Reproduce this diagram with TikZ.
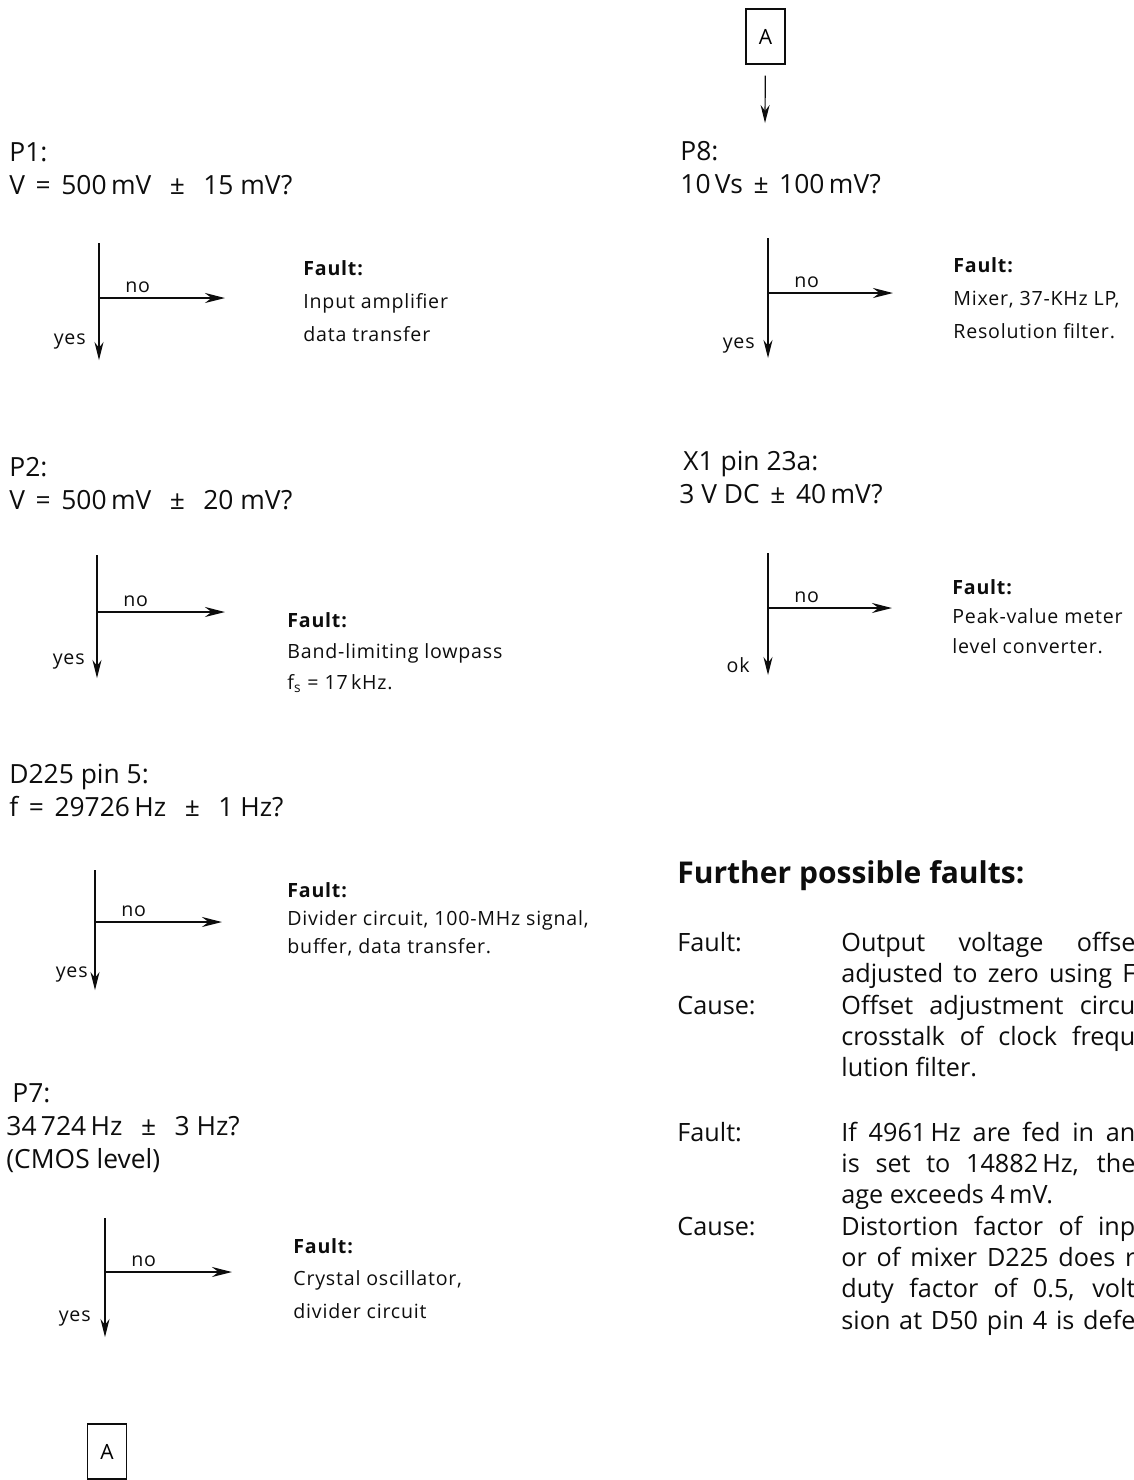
\documentclass[tikz,border=0pt]{standalone}
\usepackage{fontspec}
\setmainfont{Open Sans}
\newfontfamily\smallface[LetterSpace=4]{Open Sans}
\usepackage{tikz}
\usetikzlibrary{arrows.meta,calc,positioning}
\usepackage{xcolor}
\definecolor{printblack}{gray}{0.05}

\newlength{\colw}
\setlength{\colw}{147pt}
\newcommand{\fullline}[1]{\makebox[\colw][s]{#1}}
\newcommand{\wsp}{\hspace{0.4em}}
\newcommand{\psp}{\hspace{0.7em}}

\tikzset{
  question/.style={anchor=base west,align=left,inner sep=0pt,printblack,font=\fontsize{13.2}{16.5}\selectfont},
  faultnote/.style={anchor=base west,align=left,inner sep=0pt,printblack,font=\smallface\fontsize{9.8}{#1}\selectfont},
  faultnote/.default=15.5pt,
  tag/.style={inner sep=0pt,printblack,font=\smallface\fontsize{9.8}{12}\selectfont},
  trunk/.style={printblack,line width=0.6pt,-{Stealth[length=9pt,width=4.5pt]}},
  nobranch/.style={printblack,line width=1pt,-{Stealth[length=10pt,width=5pt]}},
  connector/.style={draw=printblack,line width=0.6pt,minimum width=19.5pt,minimum height=27.5pt,inner sep=0pt,font=\smallface\fontsize{10.5}{12}\selectfont},
  heading/.style={anchor=base west,inner sep=0pt,printblack,font=\bfseries\fontsize{15}{18}\selectfont},
  further/.style={anchor=base west,align=left,inner sep=0pt,printblack,font=\fontsize{12.6}{15.7}\selectfont}
}

\begin{document}
\begin{tikzpicture}[x=0.5pt,y=-0.5pt,>=Stealth]
  \useasboundingbox (0,0) rectangle (1134,1480);
  \node[question] (p1) at (9,194.5) {P1:\\V\wsp=\wsp500\,mV\psp±\psp15~mV?};
  \node[question] (p2) at (9,509) {P2:\\V\wsp=\wsp500\,mV\psp±\psp20~mV?};
  \node[question] (d225) at (9,816) {D225 pin 5:\\f\wsp=\wsp29726\,Hz\psp±\psp1~Hz?};
  \node[question] (p7) at (6,1168) {\hspace*{3pt}P7:\\34\,724\,Hz\psp±\psp3~Hz?\\(CMOS level)};
  \node[question] (p8) at (680,193.5) {P8:\\10\,Vs\wsp±\wsp100\,mV?};
  \node[question] (x1) at (679,503.5) {\hspace*{2pt}X1 pin 23a:\\3 V DC\wsp±\wsp40\,mV?};

  \foreach \n/\x/\t/\m/\b/\e/\l/\lx/\ly in {1/99/243/298/360/225/yes/6.5/9,2/97/555/612/678/225/yes/6/8.5,
      3/95/870/922/990/222/yes/3.5/8,4/105/1218/1272/1337/232/yes/7/9.5,
      5/768/238/293/358/893/yes/6.5/6,6/768/553/608/675/892/ok/9/5}{
    \coordinate (top\n) at (\x,\t);
    \coordinate (split\n) at (\x,\m);
    \coordinate (pass\n) at (\x,\b);
    \coordinate (fail\n) at (\e,\m);
    \draw[trunk] (top\n) -- (pass\n);
    \draw[nobranch] (split\n) -- (fail\n);
    \node[tag,anchor=south west] (no\n) at ([xshift=13pt,yshift=2.5pt]split\n) {no};
    \node[tag,anchor=east] (ans\n) at ([xshift=-\lx pt,yshift=\ly pt]pass\n) {\l};
  }

  \node[faultnote=16.5pt] (f1) at (303,341) {\textbf{Fault:}\\Input amplifier\\data transfer};
  \node[faultnote=15.5pt] (f2) at (287,689) {\textbf{Fault:}\\Band-limiting lowpass\\f\textsubscript{s}~=~17\,kHz.};
  \node[faultnote=14pt] (f3) at (287,953) {\textbf{Fault:}\\Divider circuit, 100-MHz signal,\\buffer, data transfer.};
  \node[faultnote=16.25pt] (f4) at (293,1318) {\textbf{Fault:}\\Crystal oscillator,\\divider circuit};
  \node[faultnote=16.5pt] (f5) at (953,338) {\textbf{Fault:}\\Mixer, 37-KHz LP,\\Resolution filter.};
  \node[faultnote=14.75pt] (f6) at (952,653) {\textbf{Fault:}\\Peak-value meter\\level converter.};

  \node[connector] (atop) at (765.5,36.5) {A};
  \node[connector] (abot) at (107,1451.5) {A};
  \coordinate (p8in) at (765,123);
  \draw[trunk,shorten <=5.5pt] (atop) -- (p8in);

  \node[heading] (further) at (677,883) {Further possible faults:};
  \node[further] (fault1) at (677,951) {Fault:};
  \node[further] (cause1) at (677,1014) {Cause:};
  \node[further] (fault2) at (677,1141) {Fault:};
  \node[further] (cause2) at (677,1235) {Cause:};
  \node[further] (fault1txt) at (841,982.4) {\fullline{Output voltage offse}\\\fullline{adjusted to zero using F}};
  \node[further] (cause1txt) at (841,1076.8) {\fullline{Offset adjustment circu}\\\fullline{crosstalk of clock frequ}\\lution filter.};
  \node[further] (fault2txt) at (841,1203.8) {\fullline{If 4961\,Hz are fed in an}\\\fullline{is set to 14882\,Hz, the}\\age exceeds 4\,mV.};
  \node[further] (cause2txt) at (841,1329.2) {\fullline{Distortion factor of inp}\\\fullline{or of mixer D225 does r}\\\fullline{duty factor of 0.5, volt}\\\fullline{sion at D50 pin 4 is defe}};
\end{tikzpicture}
\end{document}
